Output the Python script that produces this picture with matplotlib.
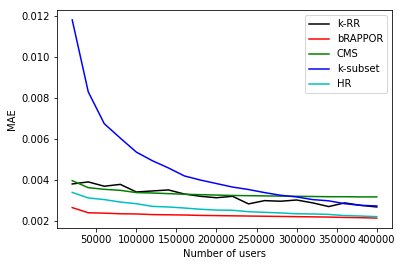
import matplotlib
matplotlib.use("Agg")
import matplotlib.pyplot as plt
import numpy as np

users = np.arange(20000, 400001, 20000)

krr = [0.00382, 0.00392, 0.00371, 0.00380, 0.00343, 0.00348, 0.00353, 0.00333,
       0.00322, 0.00315, 0.00322, 0.00285, 0.00301, 0.00298, 0.00304, 0.00290,
       0.00272, 0.00290, 0.00278, 0.00270]
brappor = [0.00267, 0.00242, 0.00240, 0.00237, 0.00236, 0.00233, 0.00232, 0.00231,
           0.00229, 0.00228, 0.00227, 0.00226, 0.00225, 0.00224, 0.00223, 0.00222,
           0.00221, 0.00219, 0.00218, 0.00216]
cms = [0.00398, 0.00364, 0.00356, 0.00351, 0.00340, 0.00338, 0.00335, 0.00332,
       0.00330, 0.00328, 0.00326, 0.00325, 0.00324, 0.00323, 0.00322, 0.00321,
       0.00320, 0.00320, 0.00319, 0.00319]
ksubset = [0.01180, 0.00830, 0.00675, 0.00605, 0.00537, 0.00495, 0.00460, 0.00421,
           0.00401, 0.00384, 0.00367, 0.00355, 0.00340, 0.00327, 0.00319, 0.00306,
           0.00300, 0.00286, 0.00278, 0.00275]
hr = [0.00341, 0.00314, 0.00306, 0.00294, 0.00286, 0.00273, 0.00270, 0.00265,
      0.00259, 0.00255, 0.00254, 0.00247, 0.00244, 0.00241, 0.00237, 0.00236,
      0.00234, 0.00228, 0.00226, 0.00223]

fig = plt.figure(figsize=(402 / 72, 266 / 72), dpi=72)
ax = fig.add_axes([57 / 402, 1 - 228 / 266, (392 - 57) / 402, (228 - 10) / 266])

ax.plot(users, krr, color="k", label="k-RR")
ax.plot(users, brappor, color="r", label="bRAPPOR")
ax.plot(users, cms, color="g", label="CMS")
ax.plot(users, ksubset, color="b", label="k-subset")
ax.plot(users, hr, color="c", label="HR")

ax.set_xlabel("Number of users")
ax.set_ylabel("MAE")
ax.set_xticks([50000, 100000, 150000, 200000, 250000, 300000, 350000, 400000])
ax.set_yticks([0.002, 0.004, 0.006, 0.008, 0.010, 0.012])
ax.legend(loc="upper right")

fig.savefig("out.png", dpi=72)
